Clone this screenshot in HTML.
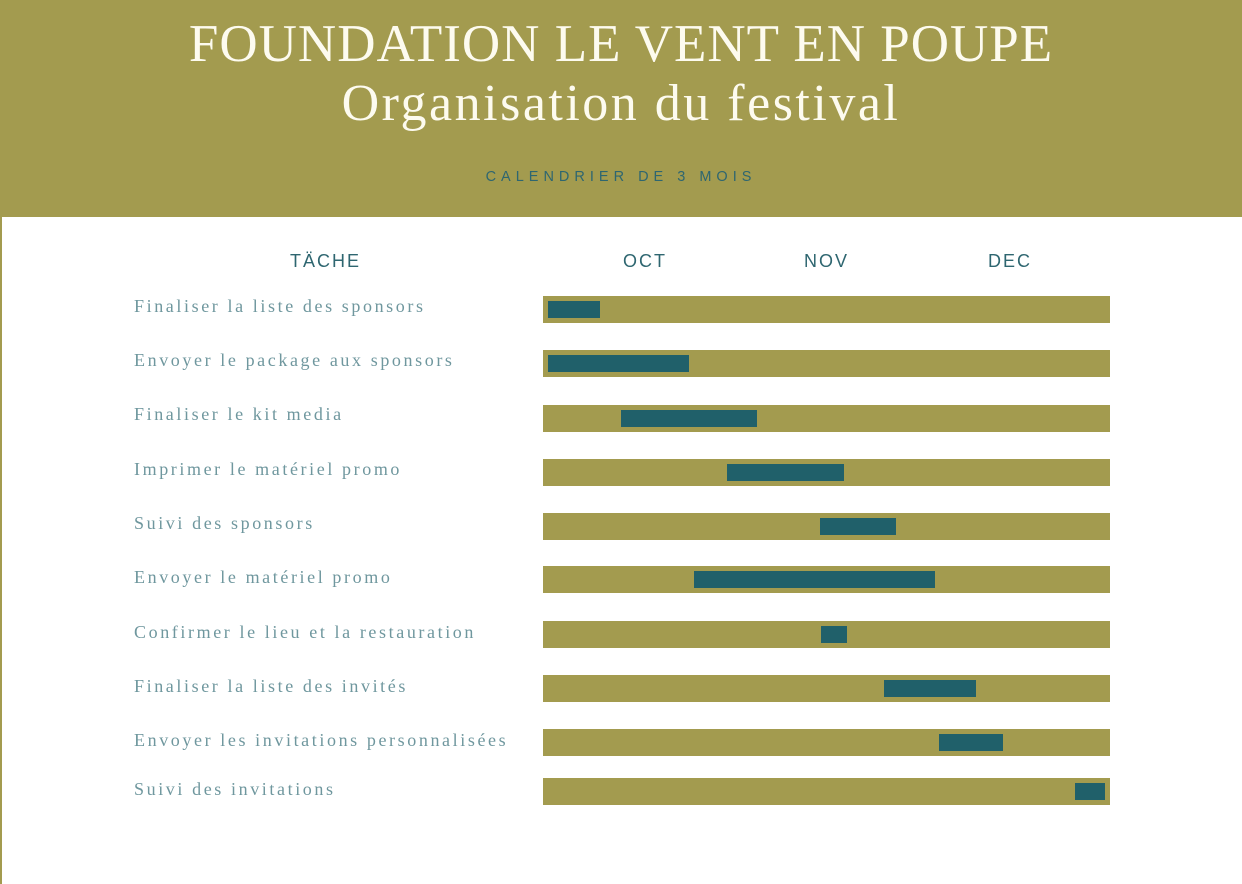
<!DOCTYPE html>
<html><head><meta charset="utf-8"><style>
html,body{margin:0;padding:0}
body{width:1242px;height:884px;position:relative;background:#fff;overflow:hidden;font-family:"Liberation Serif",serif}
.hdr{position:absolute;left:0;top:0;width:1242px;height:217px;background:#a39b4f}
.edge{position:absolute;left:0;top:0;width:2px;height:884px;background:#a39b4f}
.t{position:absolute;left:0;width:1242px;text-align:center;color:#fdfbef}
.lab{position:absolute;left:134px;font-size:18px;letter-spacing:2.6px;color:#6f979e}
.bar{position:absolute;left:543px;width:567px;height:27px;background:#a39b4f}
.in{position:absolute;height:17px;background:#20606a}
.m{position:absolute;top:251px;font-family:"Liberation Sans",sans-serif;font-size:18px;letter-spacing:2px;color:#2e6670}
</style></head><body>
<div class="hdr"></div><div class="edge"></div>
<div class="t" style="top:14px;font-size:53px;letter-spacing:1px">FOUNDATION LE VENT EN POUPE</div>
<div class="t" style="top:74px;font-size:52px;letter-spacing:2.5px">Organisation du festival</div>
<div class="t" style="top:169px;font-size:14.5px;letter-spacing:5px;color:#2e6670;font-family:'Liberation Sans',sans-serif">CALENDRIER DE 3 MOIS</div>
<div class="m" style="left:290px">TÄCHE</div>
<div class="m" style="left:623px">OCT</div>
<div class="m" style="left:804px">NOV</div>
<div class="m" style="left:988px">DEC</div>

<div class="lab" style="top:296px">Finaliser la liste des sponsors</div>
<div class="lab" style="top:350px">Envoyer le package aux sponsors</div>
<div class="lab" style="top:404px">Finaliser le kit media</div>
<div class="lab" style="top:459px">Imprimer le matériel promo</div>
<div class="lab" style="top:513px">Suivi des sponsors</div>
<div class="lab" style="top:567px">Envoyer le matériel promo</div>
<div class="lab" style="top:622px">Confirmer le lieu et la restauration</div>
<div class="lab" style="top:676px">Finaliser la liste des invités</div>
<div class="lab" style="top:730px">Envoyer les invitations personnalisées</div>
<div class="lab" style="top:779px">Suivi des invitations</div>

<div class="bar" style="top:296px"></div><div class="in" style="top:301px;left:548px;width:52px"></div>
<div class="bar" style="top:350px"></div><div class="in" style="top:355px;left:548px;width:141px"></div>
<div class="bar" style="top:405px"></div><div class="in" style="top:410px;left:621px;width:136px"></div>
<div class="bar" style="top:459px"></div><div class="in" style="top:464px;left:727px;width:117px"></div>
<div class="bar" style="top:513px"></div><div class="in" style="top:518px;left:820px;width:76px"></div>
<div class="bar" style="top:566px"></div><div class="in" style="top:571px;left:694px;width:241px"></div>
<div class="bar" style="top:621px"></div><div class="in" style="top:626px;left:821px;width:26px"></div>
<div class="bar" style="top:675px"></div><div class="in" style="top:680px;left:884px;width:92px"></div>
<div class="bar" style="top:729px"></div><div class="in" style="top:734px;left:939px;width:64px"></div>
<div class="bar" style="top:778px"></div><div class="in" style="top:783px;left:1075px;width:30px"></div>
</body></html>
